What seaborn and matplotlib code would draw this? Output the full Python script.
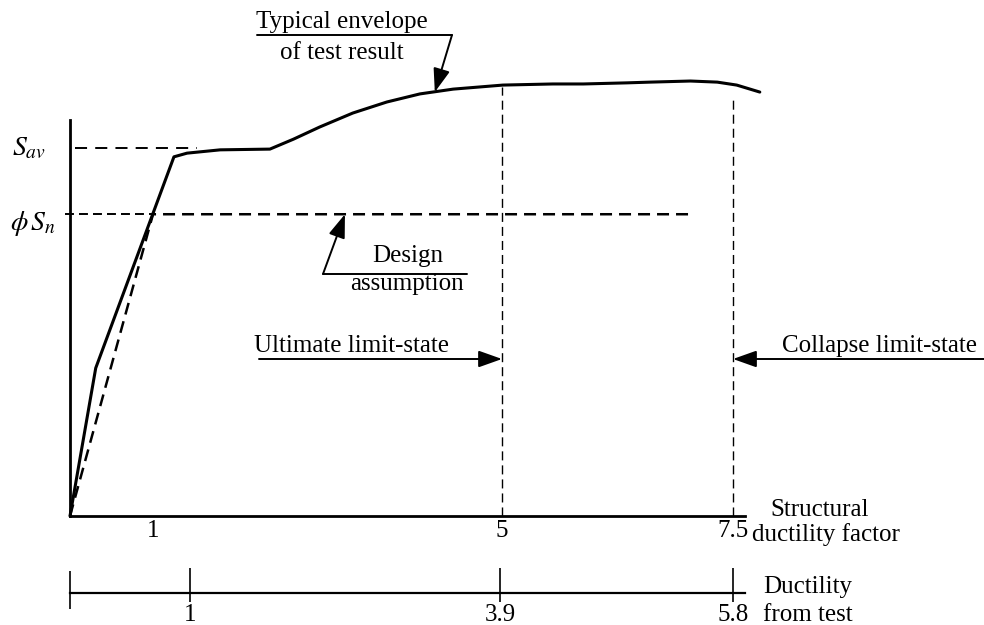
import numpy as np
import matplotlib
matplotlib.use("Agg")
import matplotlib.pyplot as plt
import seaborn as sns

# ---- values ---------------------------------------------------------------
# structural ductility factor marks and the corresponding test ductility
struct_ticks = [1, 5, 7.5]
struct_labels = ["1", "5", "7.5"]
test_ticks = [1, 3.9, 5.8]
test_labels = ["1", "3.9", "5.8"]

# typical envelope of test result (ductility factor, strength / S_av)
env_mu = [0.0, 0.31, 1.24, 1.39, 1.77, 2.34, 2.61, 2.91, 3.29, 3.68, 4.06,
          4.44, 5.01, 5.55, 5.88, 6.35, 6.60, 7.04, 7.33, 7.54, 7.79]
env_s = [0.0, 0.402, 0.976, 0.986, 0.995, 0.997, 1.024, 1.057, 1.095, 1.125,
         1.147, 1.160, 1.171, 1.174, 1.174, 1.177, 1.179, 1.182, 1.179, 1.171,
         1.152]

# design assumption (elastic - perfectly plastic at phi*S_n)
design_mu = [0.0, 1.0, 7.04]
design_s = [0.0, 0.82, 0.82]

S_av = 1.0
phi_Sn = 0.82
mu_ultimate = 5.0
mu_collapse = 7.5

# ---- style ----------------------------------------------------------------
sns.set_theme(style="white")
plt.rcParams["font.family"] = ["Liberation Serif", "DejaVu Serif"]
plt.rcParams["mathtext.fontset"] = "stix"

W, H = 984, 625


def piecewise(k_in, k_out):
    ki = np.asarray(k_in, float)
    ko = np.asarray(k_out, float)
    s0 = (ko[1] - ko[0]) / (ki[1] - ki[0])
    s1 = (ko[-1] - ko[-2]) / (ki[-1] - ki[-2])

    def f(v):
        v = np.asarray(v, float)
        out = np.interp(v, ki, ko)
        out = np.where(v < ki[0], ko[0] + (v - ki[0]) * s0, out)
        out = np.where(v > ki[-1], ko[-1] + (v - ki[-1]) * s1, out)
        return out
    return f


# schematic (not to scale) horizontal axes: ductility -> pixel column
struct_knots, struct_cols = [0, 1, 5, 7.5], [70, 153, 502, 733]
test_knots, test_cols = [0, 1, 3.9, 5.8], [70, 190, 500, 733]
s_fwd, s_inv = piecewise(struct_knots, struct_cols), piecewise(struct_cols, struct_knots)
t_fwd, t_inv = piecewise(test_knots, test_cols), piecewise(test_cols, test_knots)

fig = plt.figure(figsize=(W / 100, H / 100), dpi=100)
fig.patch.set_facecolor("white")

# ---- main diagram -----------------------------------------------------------
ax = fig.add_axes([0, 0, 1, 1])
ax.set_facecolor("none")
ax.set_xscale("function", functions=(s_fwd, s_inv))
ax.set_xlim(float(s_inv(0)), float(s_inv(W)))
ax.set_ylim(-109 / 368, 516 / 368)

axis_end = 7.63
for side in ("top", "right"):
    ax.spines[side].set_visible(False)
for side in ("left", "bottom"):
    ax.spines[side].set_position(("data", 0))
    ax.spines[side].set_linewidth(2.0)
    ax.spines[side].set_color("black")
ax.spines["left"].set_bounds(0, 1.076)
ax.spines["bottom"].set_bounds(0, axis_end)
ax.set_yticks([])
ax.set_xticks(struct_ticks, struct_labels)
ax.tick_params(axis="x", which="major", length=0, pad=3, labelsize=18,
               labelcolor="black")
ax.set_xticks([struct_ticks[0]], minor=True)
ax.tick_params(axis="x", which="minor", direction="in", length=29.5,
               width=1.2, color="black")

# envelope and design assumption
sns.lineplot(x=env_mu, y=env_s, sort=False, estimator=None, color="black",
             linewidth=2.2, ax=ax)
sns.lineplot(x=design_mu, y=design_s, sort=False, estimator=None,
             color="black", linewidth=1.8, linestyle=(0, (4.8, 2.8)), ax=ax)

# reference levels S_av and phi*S_n
ax.plot([0.06, 1.5], [S_av, S_av], color="black", lw=1.4,
        linestyle=(0, (6.2, 4.2)))
ax.plot([-0.06, 1.0], [phi_Sn, phi_Sn], color="black", lw=1.4,
        linestyle=(0, (4.6, 2.6)))

# ultimate and collapse limit states
ax.plot([mu_ultimate, mu_ultimate], [0, 1.166], color="black", lw=1.0,
        linestyle=(0, (6.5, 3.6)))
ax.plot([mu_collapse, mu_collapse], [0, 1.141], color="black", lw=1.0,
        linestyle=(0, (6.5, 3.6)))

# ---- test ductility strip -----------------------------------------------------
axb = fig.add_axes([0, 0, 1, 1])
axb.set_facecolor("none")
axb.set_xscale("function", functions=(t_fwd, t_inv))
axb.set_xlim(float(t_inv(0)), float(t_inv(W)))
axb.set_ylim(H, 0)
for side in ("top", "right", "left"):
    axb.spines[side].set_visible(False)
axb.spines["bottom"].set_position(("data", 593))
axb.spines["bottom"].set_linewidth(1.6)
axb.spines["bottom"].set_color("black")
axb.spines["bottom"].set_bounds(0, float(t_inv(s_fwd(axis_end))))
axb.set_yticks([])
axb.set_xticks(test_ticks, test_labels)
axb.tick_params(axis="x", length=0, pad=8, labelsize=18, labelcolor="black")
axb.vlines([0], 571, 609, color="black", lw=1.2)
axb.vlines(test_ticks, 568, 602, color="black", lw=1.2)

# ---- labels and annotations (figure pixels, origin top-left) ---------------
def P(x, y):
    return (x, H - y)


def label(txt, x, y, ha="center", size=18, **kw):
    ax.annotate(txt, xy=P(x, y), xycoords="figure pixels", ha=ha,
                va="baseline", fontsize=size, color="black",
                annotation_clip=False, **kw)


def rule(x0, y0, x1, y1):
    ax.annotate("", xy=P(x1, y1), xycoords="figure pixels", xytext=P(x0, y0),
                textcoords="figure pixels",
                arrowprops=dict(arrowstyle="-", lw=1.4, color="black",
                                shrinkA=0, shrinkB=0))


arrow_style = dict(arrowstyle="-|>,head_length=0.9,head_width=0.32",
                   lw=1.4, color="black", shrinkA=0, shrinkB=0,
                   mutation_scale=16)

label(r"$S_{av}$", 12, 155, ha="left", size=20)
label(r"$\phi\,S_n$", 10, 230, ha="left", size=20)

label("Structural", 820, 516)
label("ductility factor", 752, 541, ha="left")
label("Ductility", 763, 593, ha="left")
label("from test", 763, 621, ha="left")

# typical envelope
label("Typical envelope", 342, 28)
label("of test result", 342, 59)
rule(257, 35, 452, 35)
ax.annotate("", xy=(4.23, 1.152), xycoords="data", xytext=P(452, 35),
            textcoords="figure pixels", arrowprops=arrow_style)

# design assumption
label("Design", 408, 262)
label("assumption", 407, 290)
rule(323, 274, 467, 274)
ax.annotate("", xy=(3.2, phi_Sn), xycoords="data", xytext=P(323, 274),
            textcoords="figure pixels", arrowprops=arrow_style)

# limit states
lvl = (516 - 359) / 368
label("Ultimate limit-state", 351, 352)
ax.annotate("", xy=(mu_ultimate, lvl), xycoords="data", xytext=P(259, 359),
            textcoords="figure pixels", arrowprops=arrow_style)
label("Collapse limit-state", 879, 352)
ax.annotate("", xy=(mu_collapse, lvl), xycoords="data", xytext=P(984, 359),
            textcoords="figure pixels", arrowprops=arrow_style)

fig.savefig("out.png", dpi=100, facecolor="white")
